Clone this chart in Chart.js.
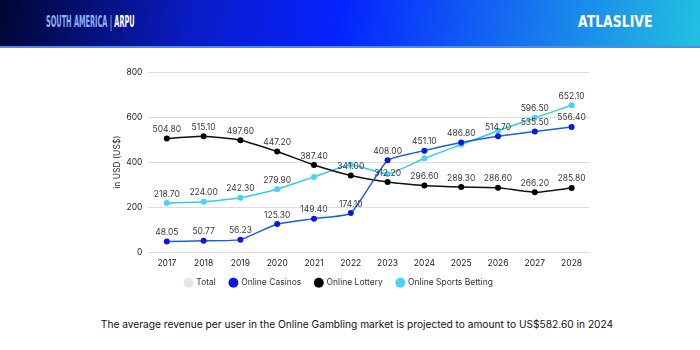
<!DOCTYPE html>
<html>
<head>
<meta charset="utf-8">
<script src="https://cdn.jsdelivr.net/npm/chart.js@4.4.1/dist/chart.umd.min.js"></script>
<style>
    html, body {
        margin: 0;
        padding: 0;
        width: 700px;
        height: 350px;
        background: #ffffff;
        overflow: hidden;
        font-family: Inter, "Noto Sans", sans-serif;
    }
    .header {
        position: absolute;
        left: 0;
        top: 0;
        width: 700px;
        height: 46px;
        background: linear-gradient(100deg, #010631 0%, #0a1cc8 28%, #0522ff 48%, #1670f0 74%, #22c2e0 100%);
        border-bottom: 2px solid #4a8cf0;
    }
    .title {
        position: absolute;
        left: 46px;
        top: 12px;
        font-family: "DejaVu Sans", sans-serif;
        font-weight: bold;
        font-size: 16px;
        color: #8fb0f5;
        transform: scaleX(0.41);
        transform-origin: left center;
        white-space: nowrap;
    }
    .title b {
        color: #ffffff;
    }
    .logo {
        position: absolute;
        left: 578px;
        top: 13px;
        font-family: "DejaVu Sans", sans-serif;
        font-weight: bold;
        font-size: 15px;
        color: #ffffff;
        transform: scaleX(0.83);
        transform-origin: left center;
        white-space: nowrap;
    }
    .chart-box {
        position: absolute;
        left: 108px;
        top: 60px;
        width: 502px;
        height: 247px;
    }
    .caption {
        position: absolute;
        left: 0;
        top: 318px;
        width: 714px;
        text-align: center;
        font-size: 10.2px;
        color: #111111;
    }
</style>
</head>
<body>
<div class="header">
    <div class="title">SOUTH AMERICA | <b>ARPU</b></div>
    <div class="logo">ATLASLIVE</div>
</div>
<div class="chart-box">
    <canvas id="arpuChart"></canvas>
</div>
<div class="caption">The average revenue per user in the Online Gambling market is projected to amount to US$582.60 in 2024</div>

<script>
const years = ["2017", "2018", "2019", "2020", "2021", "2022", "2023", "2024", "2025", "2026", "2027", "2028"];

const casinos = [48.05, 50.77, 56.23, 125.30, 149.40, 174.10, 408.00, 451.10, 486.80, 514.70, 535.50, 556.40];
const lottery = [504.80, 515.10, 497.60, 447.20, 387.40, 341.00, 312.20, 296.60, 289.30, 286.60, 266.20, 285.80];
const sportsBetting = [218.70, 224.00, 242.30, 279.90, 334.56, 389.00, 347.00, 417.00, 478.00, 539.00, 596.50, 652.10];
const total = [];

const yTicks = [0, 200, 400, 600, 800];

// -----------------------------
// VALUE LABELS (skip overlapping ones)
// -----------------------------
const valueLabels = {
    id: "valueLabels",
    afterDatasetsDraw(chart) {
        const ctx = chart.ctx;
        const placed = [];
        ctx.save();
        ctx.font = "8.5px Inter, 'Noto Sans', sans-serif";
        ctx.fillStyle = "#3a3a3a";
        ctx.textAlign = "center";
        ctx.textBaseline = "middle";

        chart.data.datasets.forEach((ds, di) => {
            const meta = chart.getDatasetMeta(di);
            if (meta.hidden) return;
            meta.data.forEach((pt, i) => {
                const v = ds.data[i];
                if (v == null) return;
                const text = v.toFixed(2);
                const w = ctx.measureText(text).width + 4;
                const h = 12;
                const cx = pt.x;
                const cy = pt.y - 9;
                const box = { l: cx - w / 2, r: cx + w / 2, t: cy - h / 2, b: cy + h / 2 };
                const hit = placed.some(p =>
                    box.l < p.r && box.r > p.l && box.t < p.b && box.b > p.t);
                if (hit) return;
                placed.push(box);
                ctx.fillText(text, cx, cy);
            });
        });
        ctx.restore();
    }
};

// -----------------------------
// LEGEND NUDGE (sit a bit higher / left)
// -----------------------------
const legendNudge = {
    id: "legendNudge",
    afterLayout(chart) {
        const lg = chart.legend;
        if (!lg) return;
        lg.top -= 10;
        lg.bottom -= 10;
        lg.left -= 10;
        lg.right -= 10;
    }
};

const ctx = document.getElementById("arpuChart").getContext("2d");

new Chart(ctx, {
    type: "line",
    data: {
        labels: years,
        datasets: [
            {
                label: "Total",
                data: total,
                borderColor: "#e6e6e6",
                backgroundColor: "#e6e6e6",
                pointBackgroundColor: "#e6e6e6"
            },
            {
                label: "Online Casinos",
                data: casinos,
                borderColor: "#1c5fe0",
                backgroundColor: "#0a18e6",
                pointBackgroundColor: "#0a18e6",
                pointBorderColor: "#0a18e6"
            },
            {
                label: "Online Lottery",
                data: lottery,
                borderColor: "#111111",
                backgroundColor: "#000000",
                pointBackgroundColor: "#000000",
                pointBorderColor: "#000000"
            },
            {
                label: "Online Sports Betting",
                data: sportsBetting,
                borderColor: "#33cbf2",
                backgroundColor: "#44d4fa",
                pointBackgroundColor: "#44d4fa",
                pointBorderColor: "#44d4fa"
            }
        ]
    },
    options: {
        responsive: true,
        maintainAspectRatio: false,
        animation: false,
        layout: {
            padding: { top: 12, right: 20, left: 0, bottom: 0 }
        },
        elements: {
            line: { borderWidth: 1.5, tension: 0.15 },
            point: { radius: 3, borderWidth: 0 }
        },
        plugins: {
            tooltip: { enabled: false },
            legend: {
                position: "bottom",
                labels: {
                    usePointStyle: true,
                    pointStyle: "circle",
                    boxWidth: 7,
                    boxHeight: 7,
                    padding: 14,
                    color: "#333333",
                    font: { size: 8.5, family: "Inter, 'Noto Sans', sans-serif" }
                }
            }
        },
        scales: {
            x: {
                offset: true,
                grid: { display: false, drawTicks: false },
                border: { display: false },
                ticks: {
                    color: "#222222",
                    font: { size: 8.5, family: "Inter, 'Noto Sans', sans-serif" },
                    padding: 6
                }
            },
            y: {
                min: 0,
                max: 800,
                afterBuildTicks: (axis) => {
                    axis.ticks = yTicks.map(v => ({ value: v }));
                },
                grid: { color: "#dddddd", drawTicks: true, tickLength: 6, tickColor: "#ffffff" },
                border: { display: false },
                title: {
                    display: true,
                    text: "in USD (US$)",
                    color: "#222222",
                    font: { size: 8.5, family: "Inter, 'Noto Sans', sans-serif" },
                    padding: 4
                },
                ticks: {
                    color: "#222222",
                    font: { size: 8.5, family: "Inter, 'Noto Sans', sans-serif" },
                    padding: 0
                }
            }
        }
    },
    plugins: [valueLabels, legendNudge]
});
</script>
</body>
</html>
